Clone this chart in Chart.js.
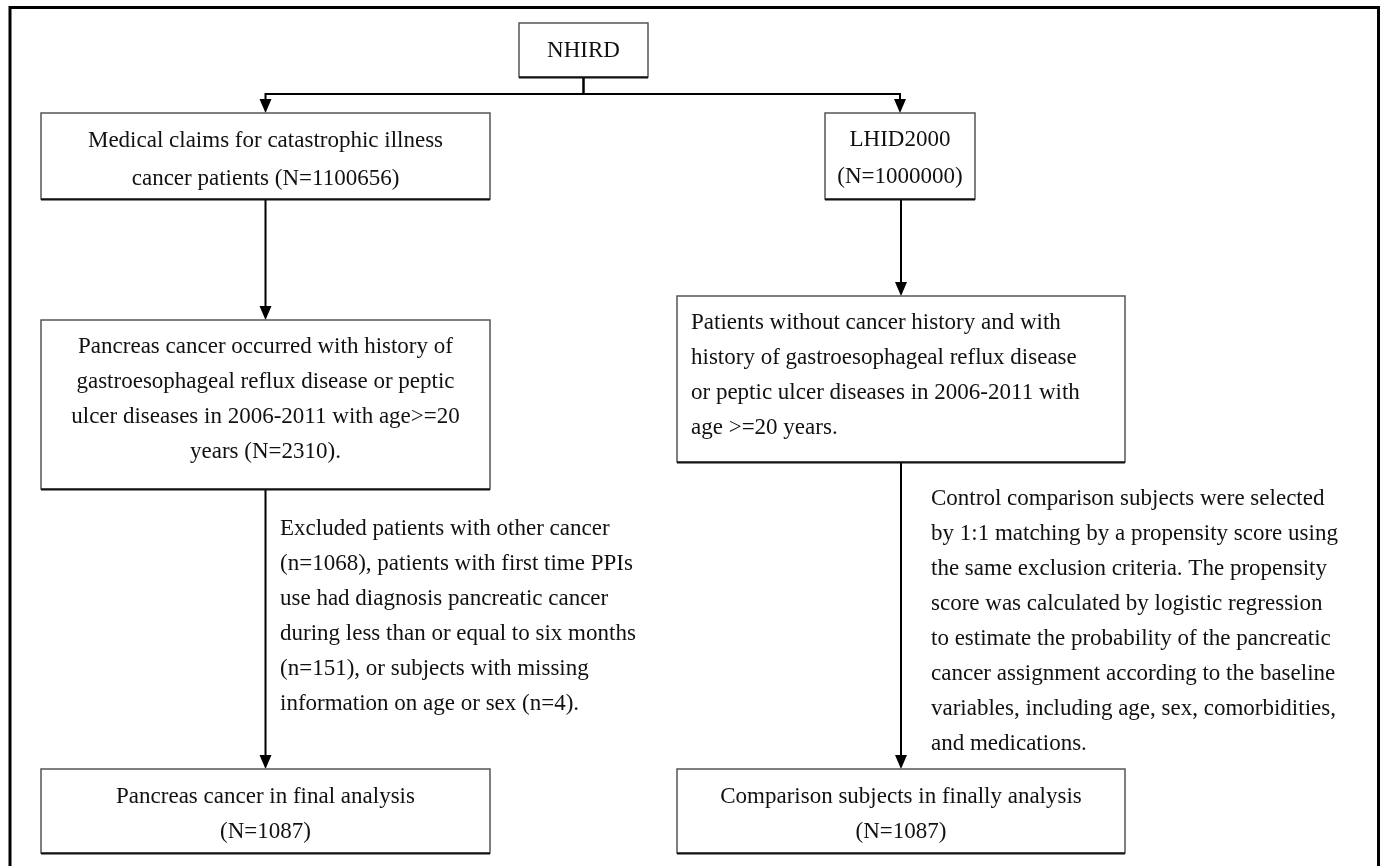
<!DOCTYPE html>
<html>
<head>
<meta charset="utf-8">
<script src="https://cdn.jsdelivr.net/npm/chart.js@4.4.1/dist/chart.umd.min.js"></script>
<style>
  html, body { margin: 0; padding: 0; background: #fff; }
  #wrap { width: 1381px; height: 866px; position: relative; }
</style>
</head>
<body>
<div id="wrap"><canvas id="flow"></canvas></div>
<script>
// text of each box, one entry per line
const boxIds = ["nhird", "claims", "lhid", "pancreas", "patients", "finalCase", "finalCtrl"];
const boxLines = [
  ["NHIRD"],
  ["Medical claims for catastrophic illness", "cancer patients (N=1100656)"],
  ["LHID2000", "(N=1000000)"],
  ["Pancreas cancer occurred with history of", "gastroesophageal reflux disease or peptic",
   "ulcer diseases in 2006-2011 with age>=20", "years (N=2310)."],
  ["Patients without cancer history and with", "history of gastroesophageal reflux disease",
   "or peptic ulcer diseases in 2006-2011 with", "age >=20 years."],
  ["Pancreas cancer in final analysis", "(N=1087)"],
  ["Comparison subjects in finally analysis", "(N=1087)"]
];
const excludedNote = [
  "Excluded patients with other cancer",
  "(n=1068), patients with first time PPIs",
  "use had diagnosis pancreatic cancer",
  "during less than or equal to six months",
  "(n=151), or subjects with missing",
  "information on age or sex (n=4)."
];
const matchingNote = [
  "Control comparison subjects were selected",
  "by 1:1 matching by a propensity score using",
  "the same exclusion criteria. The propensity",
  "score was calculated by logistic regression",
  "to estimate the probability of the pancreatic",
  "cancer assignment according to the baseline",
  "variables, including age, sex, comorbidities,",
  "and medications."
];
// links between boxes
const links = [["nhird", "claims"], ["nhird", "lhid"], ["claims", "pancreas"],
               ["lhid", "patients"], ["pancreas", "finalCase"], ["patients", "finalCtrl"]];

// layout (in axis units, y down), kept apart from the data
const boxLayout = {
  nhird:     { x0: 519, x1: 648,  y0: 23,  y1: 77,  ty: 51,  gap: 35, align: "center" },
  claims:    { x0: 41,  x1: 490,  y0: 113, y1: 199, ty: 141, gap: 38, align: "center" },
  lhid:      { x0: 825, x1: 975,  y0: 113, y1: 199, ty: 140, gap: 37, align: "center" },
  pancreas:  { x0: 41,  x1: 490,  y0: 320, y1: 489, ty: 347, gap: 35, align: "center" },
  patients:  { x0: 677, x1: 1125, y0: 296, y1: 462, ty: 323, gap: 35, align: "left", pad: 14 },
  finalCase: { x0: 41,  x1: 490,  y0: 769, y1: 853, ty: 797, gap: 35, align: "center" },
  finalCtrl: { x0: 677, x1: 1125, y0: 769, y1: 853, ty: 797, gap: 35, align: "center" }
};
const branchY = 94;
const lineGap = 35;
const noteLayout = [
  { lines: excludedNote, x: 280, y: 529 },
  { lines: matchingNote, x: 931, y: 499 }
];
const FONT = '23px "Liberation Serif", "Times New Roman", serif';

const flowPlugin = {
  id: "flowPlugin",
  afterDraw(chart) {
    const ctx = chart.ctx;
    const sx = chart.scales.x, sy = chart.scales.y;
    const px = v => sx.getPixelForValue(v);
    const py = v => sy.getPixelForValue(v);
    ctx.save();

    // outer frame
    ctx.strokeStyle = "#000";
    ctx.lineWidth = 3;
    ctx.beginPath();
    ctx.moveTo(px(10), py(870));
    ctx.lineTo(px(10), py(7.5));
    ctx.lineTo(px(1378.5), py(7.5));
    ctx.lineTo(px(1378.5), py(870));
    ctx.stroke();

    // arrows
    const arrowHead = (x, y) => {
      ctx.beginPath();
      ctx.moveTo(x - 6, y - 14);
      ctx.lineTo(x + 6, y - 14);
      ctx.lineTo(x, y);
      ctx.closePath();
      ctx.fill();
    };
    ctx.lineWidth = 2;
    ctx.fillStyle = "#000";
    links.forEach(([from, to]) => {
      const a = boxLayout[from], b = boxLayout[to];
      const ax = px((a.x0 + a.x1) / 2), bx = px((b.x0 + b.x1) / 2);
      const ay = py(a.y1), by = py(b.y0);
      ctx.beginPath();
      if (Math.abs(ax - bx) > 2) {
        ctx.moveTo(ax, ay);
        ctx.lineTo(ax, py(branchY));
        ctx.lineTo(bx, py(branchY));
        ctx.lineTo(bx, by - 12);
      } else {
        ctx.moveTo(bx, ay);
        ctx.lineTo(bx, by - 12);
      }
      ctx.stroke();
      arrowHead(bx, by);
    });

    // boxes
    ctx.font = FONT;
    ctx.textBaseline = "middle";
    boxIds.forEach((id, i) => {
      const L = boxLayout[id];
      const x0 = px(L.x0), x1 = px(L.x1), y0 = py(L.y0), y1 = py(L.y1);
      ctx.fillStyle = "#fff";
      ctx.fillRect(x0, y0, x1 - x0, y1 - y0);
      ctx.strokeStyle = "#555";
      ctx.lineWidth = 1.5;
      ctx.strokeRect(x0, y0, x1 - x0, y1 - y0);
      ctx.strokeStyle = "#111";
      ctx.lineWidth = 2;
      ctx.beginPath();
      ctx.moveTo(x0, y1 + 0.5);
      ctx.lineTo(x1, y1 + 0.5);
      ctx.stroke();

      ctx.fillStyle = "#111";
      boxLines[i].forEach((t, k) => {
        const y = py(L.ty + k * L.gap);
        if (L.align === "left") {
          ctx.textAlign = "left";
          ctx.fillText(t, x0 + L.pad, y);
        } else {
          ctx.textAlign = "center";
          ctx.fillText(t, (x0 + x1) / 2, y);
        }
      });
    });

    // side notes
    ctx.textAlign = "left";
    ctx.fillStyle = "#111";
    noteLayout.forEach(n => {
      n.lines.forEach((t, k) => ctx.fillText(t, px(n.x), py(n.y + k * lineGap)));
    });
    ctx.restore();
  }
};

new Chart(document.getElementById("flow"), {
  type: "scatter",
  data: { datasets: [{ data: [], pointRadius: 0 }] },
  options: {
    responsive: true,
    maintainAspectRatio: false,
    animation: false,
    layout: { padding: 0 },
    plugins: { legend: { display: false }, tooltip: { enabled: false } },
    scales: {
      x: { type: "linear", min: 0, max: 1381, display: false },
      y: { type: "linear", min: 0, max: 866, reverse: true, display: false }
    }
  },
  plugins: [flowPlugin]
});
</script>
</body>
</html>
